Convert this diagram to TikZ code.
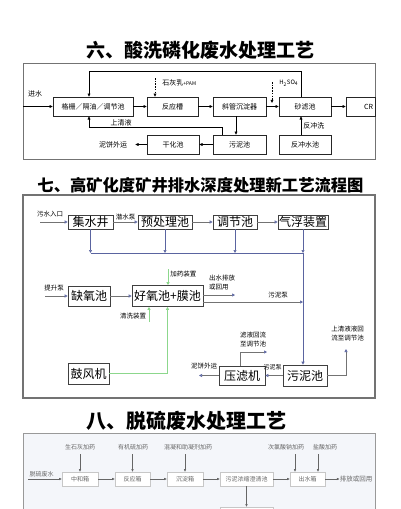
\documentclass[tikz,border=0pt]{standalone}
\usepackage{fontspec}
\setmainfont{Noto Sans CJK SC}
\usepackage{tikz}
\usetikzlibrary{arrows.meta,positioning,calc}
\tikzset{
  >=Stealth,
  every picture/.append style={line width=0.6pt},
}

\begin{document}
\begin{tikzpicture}[
    x=1pt, y=-1pt,
    title/.style={inner sep=0pt, font=\fontsize{19}{20}\selectfont\bfseries},
    frame/.style={draw=black!55, line width=0.9pt},
    tbox/.style={draw=black!85, inner sep=0pt, minimum height=19pt, font=\fontsize{7}{8}\selectfont},
    tlabel/.style={inner sep=0pt, font=\fontsize{7}{8}\selectfont},
    tarrow/.style={-{Triangle[length=3.2pt,width=2.8pt]}, line width=0.6pt},
    sbox/.style={draw=black!75, inner sep=0pt, minimum height=14pt, font=\fontsize{12}{13}\selectfont},
    slabel/.style={inner sep=0pt, align=left, font=\fontsize{6.5}{9}\selectfont},
    sarrow/.style={draw=black!55, line width=0.6pt, -{Triangle[open,length=3pt,width=3pt,color=linkblue]}},
    bline/.style={draw=linkblue, line width=0.7pt},
    barrow/.style={bline, -{Triangle[open,length=3pt,width=3pt]}},
    garrow/.style={draw=pipegreen, line width=0.9pt, -{Triangle[open,length=3pt,width=3pt]}},
    box3/.style={draw=black!22, fill=white, inner sep=0pt, minimum height=14pt, text=black!60, font=\fontsize{6}{7}\selectfont},
    label3/.style={inner sep=0pt, text=black!60, font=\fontsize{6}{7}\selectfont},
    arrow3/.style={draw=black!60, line width=0.5pt, -{Triangle[length=2.6pt,width=2.2pt]}}
]
% Color definitions
\definecolor{linkblue}{RGB}{90,100,160}
\definecolor{pipegreen}{RGB}{140,215,140}
\definecolor{paleblue}{RGB}{244,246,250}

\path[use as bounding box, fill=white] (0,0) rectangle (400,509);

% Part six
\node[title] (t6) at (200,50) {六、酸洗磷化废水处理工艺};
\draw[frame] (23,63) rectangle (375,159);

\node[tbox, minimum width=80pt] (gs) at (93,106.5) {格栅／隔油／调节池};
\node[tbox, minimum width=51pt] (fyc) at (172.5,106.5) {反应槽};
\node[tbox, minimum width=53pt] (xg) at (239.5,106.5) {斜管沉淀器};
\node[tbox, minimum width=52pt] (sl) at (305,106.5) {砂滤池};
\node[tbox, minimum width=29pt, text width=25pt, align=right] (cr) at (360.5,106.5) {CR};
\node[tbox, minimum width=52pt] (gh) at (173,144.5) {干化池};
\node[tbox, minimum width=53pt] (wn) at (239.5,144.5) {污泥池};
\node[tbox, minimum width=52pt] (fcs) at (305,144.5) {反冲水池};
\node[tlabel, inner xsep=8pt] (nb) at (113,144.5) {泥饼外运};
\node[tlabel] (js) at (35,94) {进水};
\coordinate (jsin) at (23,106.5);

\draw[tarrow] (jsin) -- (gs);
\draw[tarrow] (gs) -- (fyc);
\draw[tarrow] (fyc) -- (xg);
\draw[tarrow] (xg) -- (sl);
\draw[tarrow] (sl) -- (cr);
\draw[tarrow] ([xshift=-4pt]sl.north) -- ++(0,-25) -| ([xshift=-4pt]gs.north);
\draw[tarrow] ([xshift=-17.5pt]wn.north) -- ++(0,-7) -| ([xshift=-4pt]gs.south);
\node[tlabel] (sqy) at (121,123) {上清液};
\draw[tarrow] ([xshift=-3.5pt]xg.south) -- ([xshift=-3.5pt]wn.north);
\draw[tarrow] ([xshift=-4pt]fcs.north) -- node[tlabel, right=2pt] (fcx) {反冲洗} ([xshift=-4pt]sl.south);
\draw[tarrow] (wn) -- (gh);
\draw[tarrow] (gh) -- (nb);

% Dosing
\coordinate (sh) at (155,78);
\draw[tarrow, dash pattern=on 1.5pt off 1.2pt] (sh) -- (sh |- fyc.north);
\node[tlabel, anchor=west] (shl) at (162,83) {石灰乳{\fontsize{5}{6}\selectfont+PAM}};
\coordinate (hs) at (272,82);
\coordinate (hsend) at (272,103);
\draw[tarrow, dash pattern=on 1.5pt off 1.2pt] (hs) -- (hsend);
\node[tlabel, anchor=west, font=\fontsize{6}{7}\selectfont] (hsl) at (279,83) {H\textsubscript{2}SO\textsubscript{4}};

% Part seven
\node[title, font=\fontsize{16.3}{17}\selectfont\bfseries] (t7) at (200.5,185) {七、高矿化度矿井排水深度处理新工艺流程图};
\draw[frame, line width=1.1pt] (23,195) rectangle (375,398);

\node[sbox, minimum width=45pt] (jsj) at (90.5,222) {集水井};
\node[sbox, minimum width=54pt] (ycl) at (165,222) {预处理池};
\node[sbox, minimum width=44pt] (tjc) at (235,222) {调节池};
\node[sbox, minimum width=50pt] (qf) at (303,222) {气浮装置};
\coordinate (wsin) at (40,222);
\node[slabel] (wsl) at (50,214) {污水入口};
\draw[sarrow] (wsin) -- (jsj);
\draw[sarrow] (jsj) -- node[slabel, above=1.5pt] (qsb) {潜水泵} (ycl);
\draw[sarrow] (ycl) -- (tjc);
\draw[sarrow] (tjc) -- (qf);

\coordinate (bus) at (0,253);
\draw[bline] (jsj.south |- bus) -- (qf.south |- bus);
\foreach \n in {jsj,ycl,tjc,qf}
  \draw[barrow] (\n.south) -- (\n.south |- bus);

\node[sbox, minimum width=42pt, minimum height=20pt] (qyc) at (89,296) {缺氧池};
\node[sbox, minimum width=71pt, minimum height=21pt] (hyc) at (167.5,296) {好氧池+膜池};
\coordinate (tsin) at (45,296);
\node[slabel] (tsl) at (54,288) {提升泵};
\draw[sarrow] (tsin) -- (qyc);
\draw[sarrow] (qyc) -- (hyc);

\coordinate (jyin) at (168,269);
\draw[garrow] (jyin) -- (jyin |- hyc.north);
\node[slabel, anchor=west] (jyl) at (170,274) {加药装置};
\coordinate (qxin) at (149,322);
\draw[garrow] (qxin) -- (qxin |- hyc.south);
\node[slabel] (qxl) at (133,316) {清洗装置};
\node[sbox, minimum width=41pt, minimum height=21pt] (gfj) at (88.5,373.5) {鼓风机};
\draw[garrow] (gfj.east) -| (hyc.south);

\coordinate (csout) at (235,295);
\draw[sarrow] (hyc.east |- csout) -- (csout);
\node[slabel] (csl) at (222,282.5) {出水排放\\或回用};
\coordinate (ybus) at (0,302);
\draw[sarrow] (hyc.east |- ybus) -- (qf.south |- ybus);
\node[slabel] (wnb1) at (278,295) {污泥泵};

\node[sbox, minimum width=46pt, minimum height=19pt] (ylj) at (242,375.5) {压滤机};
\node[sbox, minimum width=44pt, minimum height=21pt] (wnc) at (305,375.5) {污泥池};
\draw[sarrow] (wnc) -- (ylj);
\node[slabel, font=\fontsize{6}{7}\selectfont] (wnb2) at (272.5,367.5) {污泥泵};
\coordinate (nbout) at (199,375.5);
\draw[sarrow] (ylj) -- (nbout);
\node[slabel] (nbl) at (204,366) {泥饼外运};
\coordinate (lyend) at (267,352);
\draw[sarrow] ([xshift=-2pt]ylj.north) |- (lyend);
\node[slabel] (lyl) at (253,340) {滤液回流\\至调节池};
\coordinate (sqend) at (346,349);
\draw[sarrow] (wnc.east) -| (sqend);
\node[slabel] (sql) at (347.5,334) {上清液液回\\流至调节池};
\draw[barrow] (qf.south |- bus) -- (qf.south |- wnc.north);

% Part eight
\node[title, font=\fontsize{20}{21}\selectfont\bfseries] (t8) at (186,420.5) {八、脱硫废水处理工艺};
\draw[frame, draw=black!40, fill=paleblue] (23,433) rectangle (375,520);

\node[box3, minimum width=36pt] (zhx) at (80,479) {中和箱};
\node[box3, minimum width=35pt] (fyx) at (132.5,479) {反应箱};
\node[box3, minimum width=36pt] (cdx) at (185,479) {沉淀箱};
\node[box3, minimum width=53pt] (wnn) at (246.5,479) {污泥浓缩澄清池};
\node[box3, minimum width=35pt] (csx) at (307.5,479) {出水箱};
\node[label3, font=\fontsize{6.5}{7}\selectfont] (pfl) at (356,479) {排放或回用};
\node[box3, minimum width=53pt, minimum height=20pt] (wnd) at (246.5,517) {};
\coordinate (tlin) at (28,479);
\node[label3] (tll) at (41.5,474) {脱硫废水};

\node[label3] (shh) at (80,447) {生石灰加药};
\node[label3] (yjl) at (133,447) {有机硫加药};
\node[label3] (hnj) at (188,447) {混凝和助凝剂加药};
\node[label3] (clsn) at (286,447) {次氯酸钠加药};
\node[label3] (ysj) at (325,447) {盐酸加药};

\draw[arrow3] (tlin) -- (zhx);
\draw[arrow3] (zhx) -- (fyx);
\draw[arrow3] (fyx) -- (cdx);
\draw[arrow3] (cdx) -- (wnn);
\draw[arrow3] (wnn) -- (csx);
\draw[arrow3] (csx) -- (pfl);
\draw[arrow3] (wnn) -- (wnd);
\draw[arrow3, shorten <=4pt] (shh.south -| zhx.north) -- (zhx.north);
\draw[arrow3, shorten <=4pt] (yjl.south -| fyx.north) -- (fyx.north);
\draw[arrow3, shorten <=4pt] (hnj.south -| cdx.north) -- (cdx.north);
\coordinate (c1) at ([xshift=-12.5pt]csx.north);
\coordinate (c2) at ([xshift=10.5pt]csx.north);
\draw[arrow3, shorten <=4pt] (clsn.south -| c1) -- (c1);
\draw[arrow3, shorten <=4pt] (ysj.south -| c2) -- (c2);
\end{tikzpicture}
\end{document}
